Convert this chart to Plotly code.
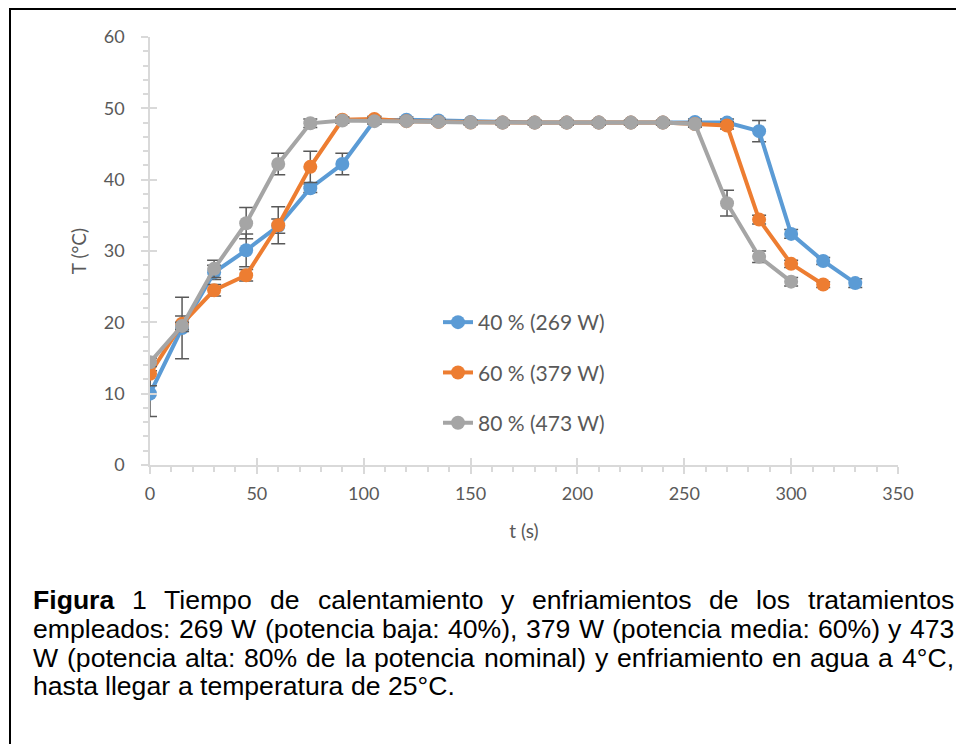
import plotly.graph_objects as go

# ---------------- data ----------------
t40 = [0, 15, 30, 45, 60, 75, 90, 105, 120, 135, 150, 165, 180, 195, 210, 225, 240, 255, 270, 285, 300, 315, 330]
T40 = [10.0, 19.2, 27.0, 30.1, 33.5, 38.8, 42.2, 48.3, 48.4, 48.3, 48.1, 48.0, 48.0, 48.0, 48.0, 48.0, 48.0, 48.1, 48.0, 46.8, 32.4, 28.6, 25.5]
E40 = [3.2, 4.3, 1.0, 2.3, 1.0, 0.6, 1.5, 0.5, 0.4, 0.3, 0.3, 0.3, 0.3, 0.3, 0.3, 0.3, 0.3, 0.4, 0.5, 1.5, 0.6, 0.5, 0.6]

t60 = [0, 15, 30, 45, 60, 75, 90, 105, 120, 135, 150, 165, 180, 195, 210, 225, 240, 255, 270, 285, 300, 315]
T60 = [12.8, 19.8, 24.5, 26.6, 33.6, 41.8, 48.4, 48.5, 48.2, 48.1, 48.0, 48.0, 48.0, 48.0, 48.0, 48.0, 48.0, 47.8, 47.6, 34.4, 28.2, 25.3]
E60 = [1.7, 1.1, 0.8, 0.8, 2.6, 2.2, 0.4, 0.4, 0.3, 0.3, 0.3, 0.3, 0.3, 0.3, 0.3, 0.3, 0.3, 0.4, 0.5, 0.6, 0.5, 0.4]

t80 = [0, 15, 30, 45, 60, 75, 90, 105, 120, 135, 150, 165, 180, 195, 210, 225, 240, 255, 270, 285, 300]
T80 = [14.4, 19.5, 27.5, 33.9, 42.2, 47.9, 48.3, 48.2, 48.2, 48.1, 48.0, 48.0, 48.0, 48.0, 48.0, 48.0, 48.0, 47.8, 36.7, 29.2, 25.7]
E80 = [0.6, 0.5, 1.2, 2.2, 1.5, 0.6, 0.4, 0.4, 0.3, 0.3, 0.3, 0.3, 0.3, 0.3, 0.3, 0.3, 0.3, 0.4, 1.8, 0.8, 0.6]

names = ["40 % (269 W)", "60 % (379 W)", "80 % (473 W)"]
colors = ["#5B9BD5", "#ED7D31", "#A5A5A5"]

x_ticks = [0, 50, 100, 150, 200, 250, 300, 350]
y_ticks = [0, 10, 20, 30, 40, 50, 60]

caption_lines = [
    "Figura 1 Tiempo de calentamiento y enfriamientos de los tratamientos",
    "empleados: 269 W (potencia baja: 40%), 379 W (potencia media: 60%) y 473",
    "W (potencia alta: 80% de la potencia nominal) y enfriamiento en agua a 4°C,",
    "hasta llegar a temperatura de 25°C.",
]

# ---------------- layout geometry (page pixels; page body has an 8px margin) ----------------
OX, OY = 8, 8
W, H = 964 - OX, 744 - OY
L, R, T, B = 150 - OX, 898 - OX, 37 - OY, 465 - OY
PW, PH = R - L, B - T


def px(x):
    return (x - OX - L) / PW


def py(y):
    return (B - (y - OY)) / PH


fig = go.Figure()
for tt, yy, ee, nm, c in zip([t40, t60, t80], [T40, T60, T80], [E40, E60, E80], names, colors):
    fig.add_trace(go.Scatter(
        x=tt, y=yy, name=nm, mode="lines+markers", legendgroup=nm,
        line=dict(color=c, width=4),
        marker=dict(color=c, size=14),
        error_y=dict(type="data", array=ee, visible=True, color="#595959", thickness=1.5, width=7),
    ))

# empty trace to host overlay axes (crossing major ticks)
fig.add_trace(go.Scatter(x=[], y=[], xaxis="x2", yaxis="y2", showlegend=False, hoverinfo="skip"))

axcol = "#D9D9D9"
tickfont = dict(family="Lato", size=18, color="#595959")
fig.update_layout(
    width=W, height=H,
    margin=dict(l=L, r=W - R, t=T, b=H - B),
    paper_bgcolor="white", plot_bgcolor="white",
    showlegend=True,
    legend=dict(x=px(438), y=py(302), xanchor="left", yanchor="top",
                font=dict(family="Lato", size=21, color="#595959"),
                tracegroupgap=20, bgcolor="rgba(0,0,0,0)", itemwidth=30),
    xaxis=dict(range=[0, 350], tickvals=x_ticks, showgrid=False, zeroline=False,
               showline=True, linecolor=axcol, linewidth=1.5,
               ticks="outside", ticklen=7, tickwidth=1.5, tickcolor=axcol,
               minor=dict(dtick=10, ticks="outside", ticklen=5, tickwidth=1.5, tickcolor=axcol),
               tickfont=tickfont, ticklabelstandoff=5,
               title=dict(text="t (s)", font=dict(family="Lato", size=19, color="#595959"), standoff=21)),
    yaxis=dict(range=[0, 60], tickvals=y_ticks, showgrid=False, zeroline=False,
               showline=True, linecolor=axcol, linewidth=1.5,
               ticks="outside", ticklen=7, tickwidth=1.5, tickcolor=axcol,
               minor=dict(dtick=2, ticks="outside", ticklen=5, tickwidth=1.5, tickcolor=axcol),
               tickfont=tickfont, ticklabelstandoff=13,
               title=dict(text="T (°C)", font=dict(family="Lato", size=19, color="#595959"), standoff=12)),
    xaxis2=dict(overlaying="x", matches="x", anchor="y2", side="bottom", range=[0, 350],
                tickvals=x_ticks, showticklabels=False, showgrid=False, zeroline=False,
                ticks="inside", ticklen=7, tickwidth=1.5, tickcolor=axcol, showline=False),
    yaxis2=dict(overlaying="y", matches="y", anchor="x2", side="left", range=[0, 60],
                tickvals=y_ticks, showticklabels=False, showgrid=False, zeroline=False,
                ticks="inside", ticklen=7, tickwidth=1.5, tickcolor=axcol, showline=False),
)

# frame around the whole figure (top and left edges visible)
fig.add_shape(type="rect", xref="paper", yref="paper",
              x0=px(10), x1=px(980), y0=py(760), y1=py(9),
              line=dict(color="black", width=2), fillcolor="rgba(0,0,0,0)", layer="below")

# ---------------- justified caption ----------------
AW = {' ': 278, '!': 278, '%': 889, '(': 333, ')': 333, ',': 278, '.': 278, ':': 278, '°': 400}
for d in "0123456789":
    AW[d] = 556
AW.update(dict(A=667, B=667, C=722, D=722, E=667, F=611, G=778, H=722, I=278, J=500, K=667, L=556,
               M=833, N=722, O=778, P=667, Q=778, R=722, S=667, T=611, U=722, V=667, W=944, X=667,
               Y=667, Z=611))
AW.update(dict(a=556, b=556, c=500, d=556, e=556, f=278, g=556, h=556, i=222, j=222, k=500, l=222,
               m=833, n=556, o=556, p=556, q=556, r=333, s=500, t=278, u=556, v=500, w=722, x=500,
               y=500, z=500))
BW = dict(AW)
BW.update(dict(i=278, g=611, u=611, r=389, F=611, a=556))

FS = 26.6
CL, CR = 31, 952
baselines = [608, 637, 666, 694]


def wwidth(w, bold=False):
    tab = BW if bold else AW
    return sum(tab.get(ch, 556) for ch in w) * FS / 1000.0


for li, line in enumerate(caption_lines):
    words = line.split(" ")
    bolds = [(li == 0 and k == 0) for k in range(len(words))]
    widths = [wwidth(w, b) for w, b in zip(words, bolds)]
    justify = li < len(caption_lines) - 1
    gap = (CR - CL - sum(widths)) / (len(words) - 1) if justify else AW[' '] * FS / 1000.0
    xpos = CL
    ymid = baselines[li] - 0.30 * FS
    for w, b, wd in zip(words, bolds, widths):
        fig.add_annotation(text=("<b>%s</b>" % w) if b else w, xref="paper", yref="paper",
                           x=px(xpos), y=py(ymid), xanchor="left", yanchor="middle",
                           showarrow=False, font=dict(family="Liberation Sans", size=FS, color="black"))
        xpos += wd + gap

fig.write_html("out.html")
